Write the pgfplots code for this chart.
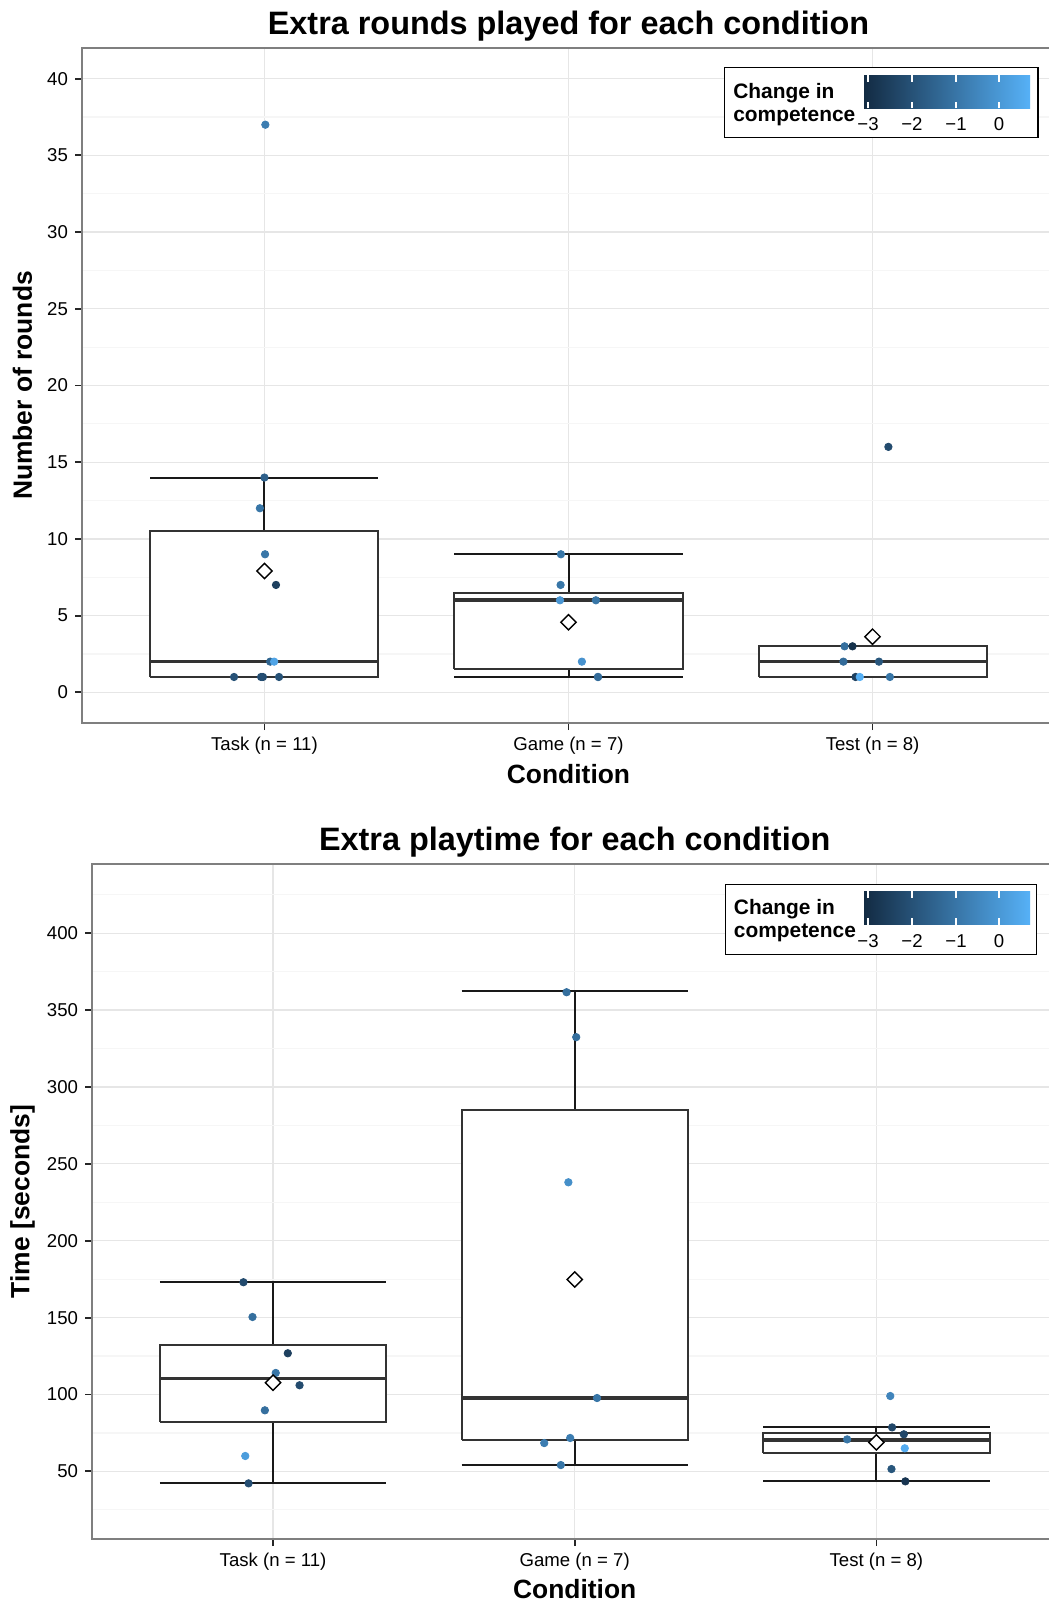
\documentclass[border=0pt]{standalone}
\usepackage{fontspec}
\setmainfont{Liberation Sans}
\usepackage{pgfplots}
\pgfplotsset{compat=1.18}
\usepackage{pgfplotstable}

\definecolor{gridmaj}{HTML}{E6E6E6}
\definecolor{gridmin}{HTML}{F6F6F6}
\definecolor{border}{HTML}{7F7F7F}
\definecolor{boxc}{HTML}{333333}
\definecolor{ggdark}{HTML}{132B43}
\definecolor{gglight}{HTML}{56B1F7}

% top panel points: x (jittered), rounds, change in competence
\pgfplotstableread{
x y c
1.003 37 -0.8
1.000 14 -1.6
0.985 12 -1.0
1.002 9 -1.0
1.038 7 -2.5
1.019 2 -1.5
1.032 2 0.3
0.995 1 -2.2
0.900 1 -2.0
0.989 1 -2.1
1.048 1 -2.0
2.097 1 -1.0
1.975 9 -1.0
1.974 7 -1.0
2.090 6 -1.0
1.972 6 -0.1
2.044 2 -0.2
2.097 1 -1.3
3.052 16 -2.2
2.908 3 -1.2
2.934 3 -2.9
2.904 2 -1.3
3.021 2 -1.9
2.944 1 -2.5
2.958 1 0.6
3.057 1 -1.0
}\toppts

% bottom panel points: x (jittered), seconds, change in competence
\pgfplotstableread{
x y c
0.902 173.0 -2.2
0.932 150.4 -1.2
1.049 126.8 -2.5
1.009 114.0 -1.0
1.088 106.0 -2.2
0.973 89.7 -1.2
0.908 60.0 0.1
0.919 42.2 -2.1
1.973 361.6 -1.2
2.005 332.4 -1.2
1.979 238.0 -0.3
2.074 97.7 -1.0
1.985 71.7 -0.8
1.899 68.4 -0.8
1.954 54.1 -1.0
3.046 99.0 -0.6
3.052 78.6 -2.3
3.091 74.1 -2.3
2.903 70.8 -1.0
3.094 65.0 0.5
3.050 51.5 -1.9
3.096 43.5 -2.8
3.000 69.0 -1.0
}\botpts

\pgfplotsset{
  ggstyle/.style={
    scale only axis, disabledatascaling,
    xmin=0.4, xmax=3.6,
    xtick={1,2,3},
    xticklabels={Task (n = 11), Game (n = 7), Test (n = 8)},
    axis line style={border, line width=1pt},
    tick align=outside, tick pos=left,
    major tick length=3.5pt, minor tick length=0pt,
    tick style={black!85, line width=0.9pt},
    xmajorgrids, ymajorgrids, yminorgrids,
    major grid style={gridmaj, line width=0.6pt},
    minor grid style={gridmin, line width=0.6pt},
    tick label style={font=\fontsize{9.3}{11}\selectfont, text=black},
    label style={font=\fontsize{13.2}{15}\selectfont\bfseries},
    title style={font=\fontsize{16.2}{19}\selectfont\bfseries, at={(axis description cs:0.5,1)}, anchor=base, yshift=0.6pt},
    /pgf/number format/assume math mode=true,
    colormap={gg}{rgb255=(19,43,67) rgb255=(86,177,247)},
    point meta min=-3.09, point meta max=0.68,
  },
  meanpts/.style={only marks, mark=square*, mark size=2.7pt,
    mark options={rotate=45, fill=white, draw=black, line width=0.7pt}},
  ptstyle/.style={scatter, only marks, mark=*, mark size=1.85pt, point meta=explicit,
    scatter/use mapped color={draw=mapped color, fill=mapped color}},
  wstyle/.style={draw=black!90, line width=1pt, mark=none, solid},
  bstyle/.style={draw=boxc, fill=white, line width=1pt, mark=none, solid},
  mstyle/.style={draw=boxc, line width=1.8pt, mark=none, solid},
}
\tikzset{
  legtitle/.style={anchor=west, align=left, inner sep=0pt, font=\fontsize{10.45}{11.35}\selectfont\bfseries},
  cbtick/.style={white, line width=0.7pt},
  cblab/.style={anchor=center, inner sep=0pt, font=\fontsize{9.3}{11}\selectfont},
}

\begin{document}
\begin{tikzpicture}
\path[use as bounding box] (0pt,0pt) rectangle (524.5pt,-803pt);

% ---------- top panel ----------
\begin{axis}[ggstyle,
  at={(41pt,-361.5pt)}, anchor=south west,
  width=486.5pt, height=337.5pt,
  ymin=-2, ymax=42,
  ytick={0,5,...,40},
  minor ytick={2.5,7.5,...,37.5},
  title={Extra rounds played for each condition},
  xlabel={Condition}, ylabel={Number of rounds},
  xlabel style={at={(axis description cs:0.5,0)}, anchor=base, yshift=-30.3pt},
  ylabel style={at={(axis description cs:-0.0611,0.5)}, anchor=center},
]
% Task: whiskers 1..14, box 1..10.5, median 2
\addplot[wstyle] coordinates {(1,1) (1,14)};
\addplot[wstyle] coordinates {(0.625,14) (1.375,14)};
\addplot[wstyle] coordinates {(0.625,1) (1.375,1)};
\addplot[bstyle] coordinates {(0.625,1) (1.375,1) (1.375,10.5) (0.625,10.5) (0.625,1)};
\addplot[mstyle] coordinates {(0.625,2) (1.375,2)};
% Game: whiskers 1..9, box 1.5..6.5, median 6
\addplot[wstyle] coordinates {(2,1) (2,9)};
\addplot[wstyle] coordinates {(1.625,9) (2.375,9)};
\addplot[wstyle] coordinates {(1.625,1) (2.375,1)};
\addplot[bstyle] coordinates {(1.625,1.5) (2.375,1.5) (2.375,6.5) (1.625,6.5) (1.625,1.5)};
\addplot[mstyle] coordinates {(1.625,6) (2.375,6)};
% Test: whiskers 1..3, box 1..3, median 2
\addplot[wstyle] coordinates {(3,1) (3,3)};
\addplot[wstyle] coordinates {(2.625,3) (3.375,3)};
\addplot[wstyle] coordinates {(2.625,1) (3.375,1)};
\addplot[bstyle] coordinates {(2.625,1) (3.375,1) (3.375,3) (2.625,3) (2.625,1)};
\addplot[mstyle] coordinates {(2.625,2) (3.375,2)};
\addplot[ptstyle] table[x=x, y=y, meta=c] \toppts;
\addplot[meanpts] coordinates {(1,7.909) (2,4.571) (3,3.625)};
% legend (colour bar)
\draw[black, line width=0.6pt, fill=white] (rel axis cs:0.6605,0.8677) rectangle (rel axis cs:0.9825,0.9714);
\node[legtitle] at (rel axis cs:0.669,0.9157) {Change in\\competence};
\shade[left color=ggdark, right color=gglight] (rel axis cs:0.8037,0.9107) rectangle (rel axis cs:0.9743,0.96);
\draw[cbtick] (rel axis cs:0.8078,0.9107) -- ++(0,3.3pt);
\draw[cbtick] (rel axis cs:0.8530,0.9107) -- ++(0,3.3pt);
\draw[cbtick] (rel axis cs:0.8983,0.9107) -- ++(0,3.3pt);
\draw[cbtick] (rel axis cs:0.9424,0.9107) -- ++(0,3.3pt);
\draw[cbtick] (rel axis cs:0.8078,0.96) -- ++(0,-3.3pt);
\draw[cbtick] (rel axis cs:0.8530,0.96) -- ++(0,-3.3pt);
\draw[cbtick] (rel axis cs:0.8983,0.96) -- ++(0,-3.3pt);
\draw[cbtick] (rel axis cs:0.9424,0.96) -- ++(0,-3.3pt);
\node[cblab] at (rel axis cs:0.8078,0.8868) {−3};
\node[cblab] at (rel axis cs:0.8530,0.8868) {−2};
\node[cblab] at (rel axis cs:0.8983,0.8868) {−1};
\node[cblab] at (rel axis cs:0.9424,0.8868) {0};
\end{axis}

% ---------- bottom panel ----------
\begin{axis}[ggstyle,
  at={(46pt,-769.5pt)}, anchor=south west,
  width=482.7pt, height=337.5pt,
  ymin=6, ymax=445,
  ytick={50,100,...,400},
  minor ytick={25,75,...,425},
  title={Extra playtime for each condition},
  xlabel={Condition}, ylabel={Time [seconds]},
  xlabel style={at={(axis description cs:0.5,0)}, anchor=base, yshift=-29.8pt},
  ylabel style={at={(axis description cs:-0.072,0.5)}, anchor=center},
]
% Task
\addplot[wstyle] coordinates {(1,42.2) (1,173.2)};
\addplot[wstyle] coordinates {(0.625,173.2) (1.375,173.2)};
\addplot[wstyle] coordinates {(0.625,42.2) (1.375,42.2)};
\addplot[bstyle] coordinates {(0.625,82.1) (1.375,82.1) (1.375,132.2) (0.625,132.2) (0.625,82.1)};
\addplot[mstyle] coordinates {(0.625,110.3) (1.375,110.3)};
% Game
\addplot[wstyle] coordinates {(2,54.4) (2,362.1)};
\addplot[wstyle] coordinates {(1.625,362.1) (2.375,362.1)};
\addplot[wstyle] coordinates {(1.625,54.4) (2.375,54.4)};
\addplot[bstyle] coordinates {(1.625,70.2) (2.375,70.2) (2.375,285.3) (1.625,285.3) (1.625,70.2)};
\addplot[mstyle] coordinates {(1.625,97.9) (2.375,97.9)};
% Test
\addplot[wstyle] coordinates {(3,43.5) (3,78.6)};
\addplot[wstyle] coordinates {(2.625,78.6) (3.375,78.6)};
\addplot[wstyle] coordinates {(2.625,43.5) (3.375,43.5)};
\addplot[bstyle] coordinates {(2.625,61.7) (3.375,61.7) (3.375,74.9) (2.625,74.9) (2.625,61.7)};
\addplot[mstyle] coordinates {(2.625,70.4) (3.375,70.4)};
\addplot[ptstyle] table[x=x, y=y, meta=c] \botpts;
\addplot[meanpts] coordinates {(1,107.7) (2,174.8) (3,68.9)};
% legend (colour bar)
\draw[black, line width=0.6pt, fill=white] (rel axis cs:0.656,0.8656) rectangle (rel axis cs:0.9785,0.9702);
\node[legtitle] at (rel axis cs:0.6645,0.916) {Change in\\competence};
\shade[left color=ggdark, right color=gglight] (rel axis cs:0.7997,0.9097) rectangle (rel axis cs:0.9716,0.9597);
\draw[cbtick] (rel axis cs:0.8038,0.9097) -- ++(0,3.3pt);
\draw[cbtick] (rel axis cs:0.8494,0.9097) -- ++(0,3.3pt);
\draw[cbtick] (rel axis cs:0.8950,0.9097) -- ++(0,3.3pt);
\draw[cbtick] (rel axis cs:0.9395,0.9097) -- ++(0,3.3pt);
\draw[cbtick] (rel axis cs:0.8038,0.9597) -- ++(0,-3.3pt);
\draw[cbtick] (rel axis cs:0.8494,0.9597) -- ++(0,-3.3pt);
\draw[cbtick] (rel axis cs:0.8950,0.9597) -- ++(0,-3.3pt);
\draw[cbtick] (rel axis cs:0.9395,0.9597) -- ++(0,-3.3pt);
\node[cblab] at (rel axis cs:0.8038,0.8855) {−3};
\node[cblab] at (rel axis cs:0.8494,0.8855) {−2};
\node[cblab] at (rel axis cs:0.8950,0.8855) {−1};
\node[cblab] at (rel axis cs:0.9395,0.8855) {0};
\end{axis}
\end{tikzpicture}
\end{document}
